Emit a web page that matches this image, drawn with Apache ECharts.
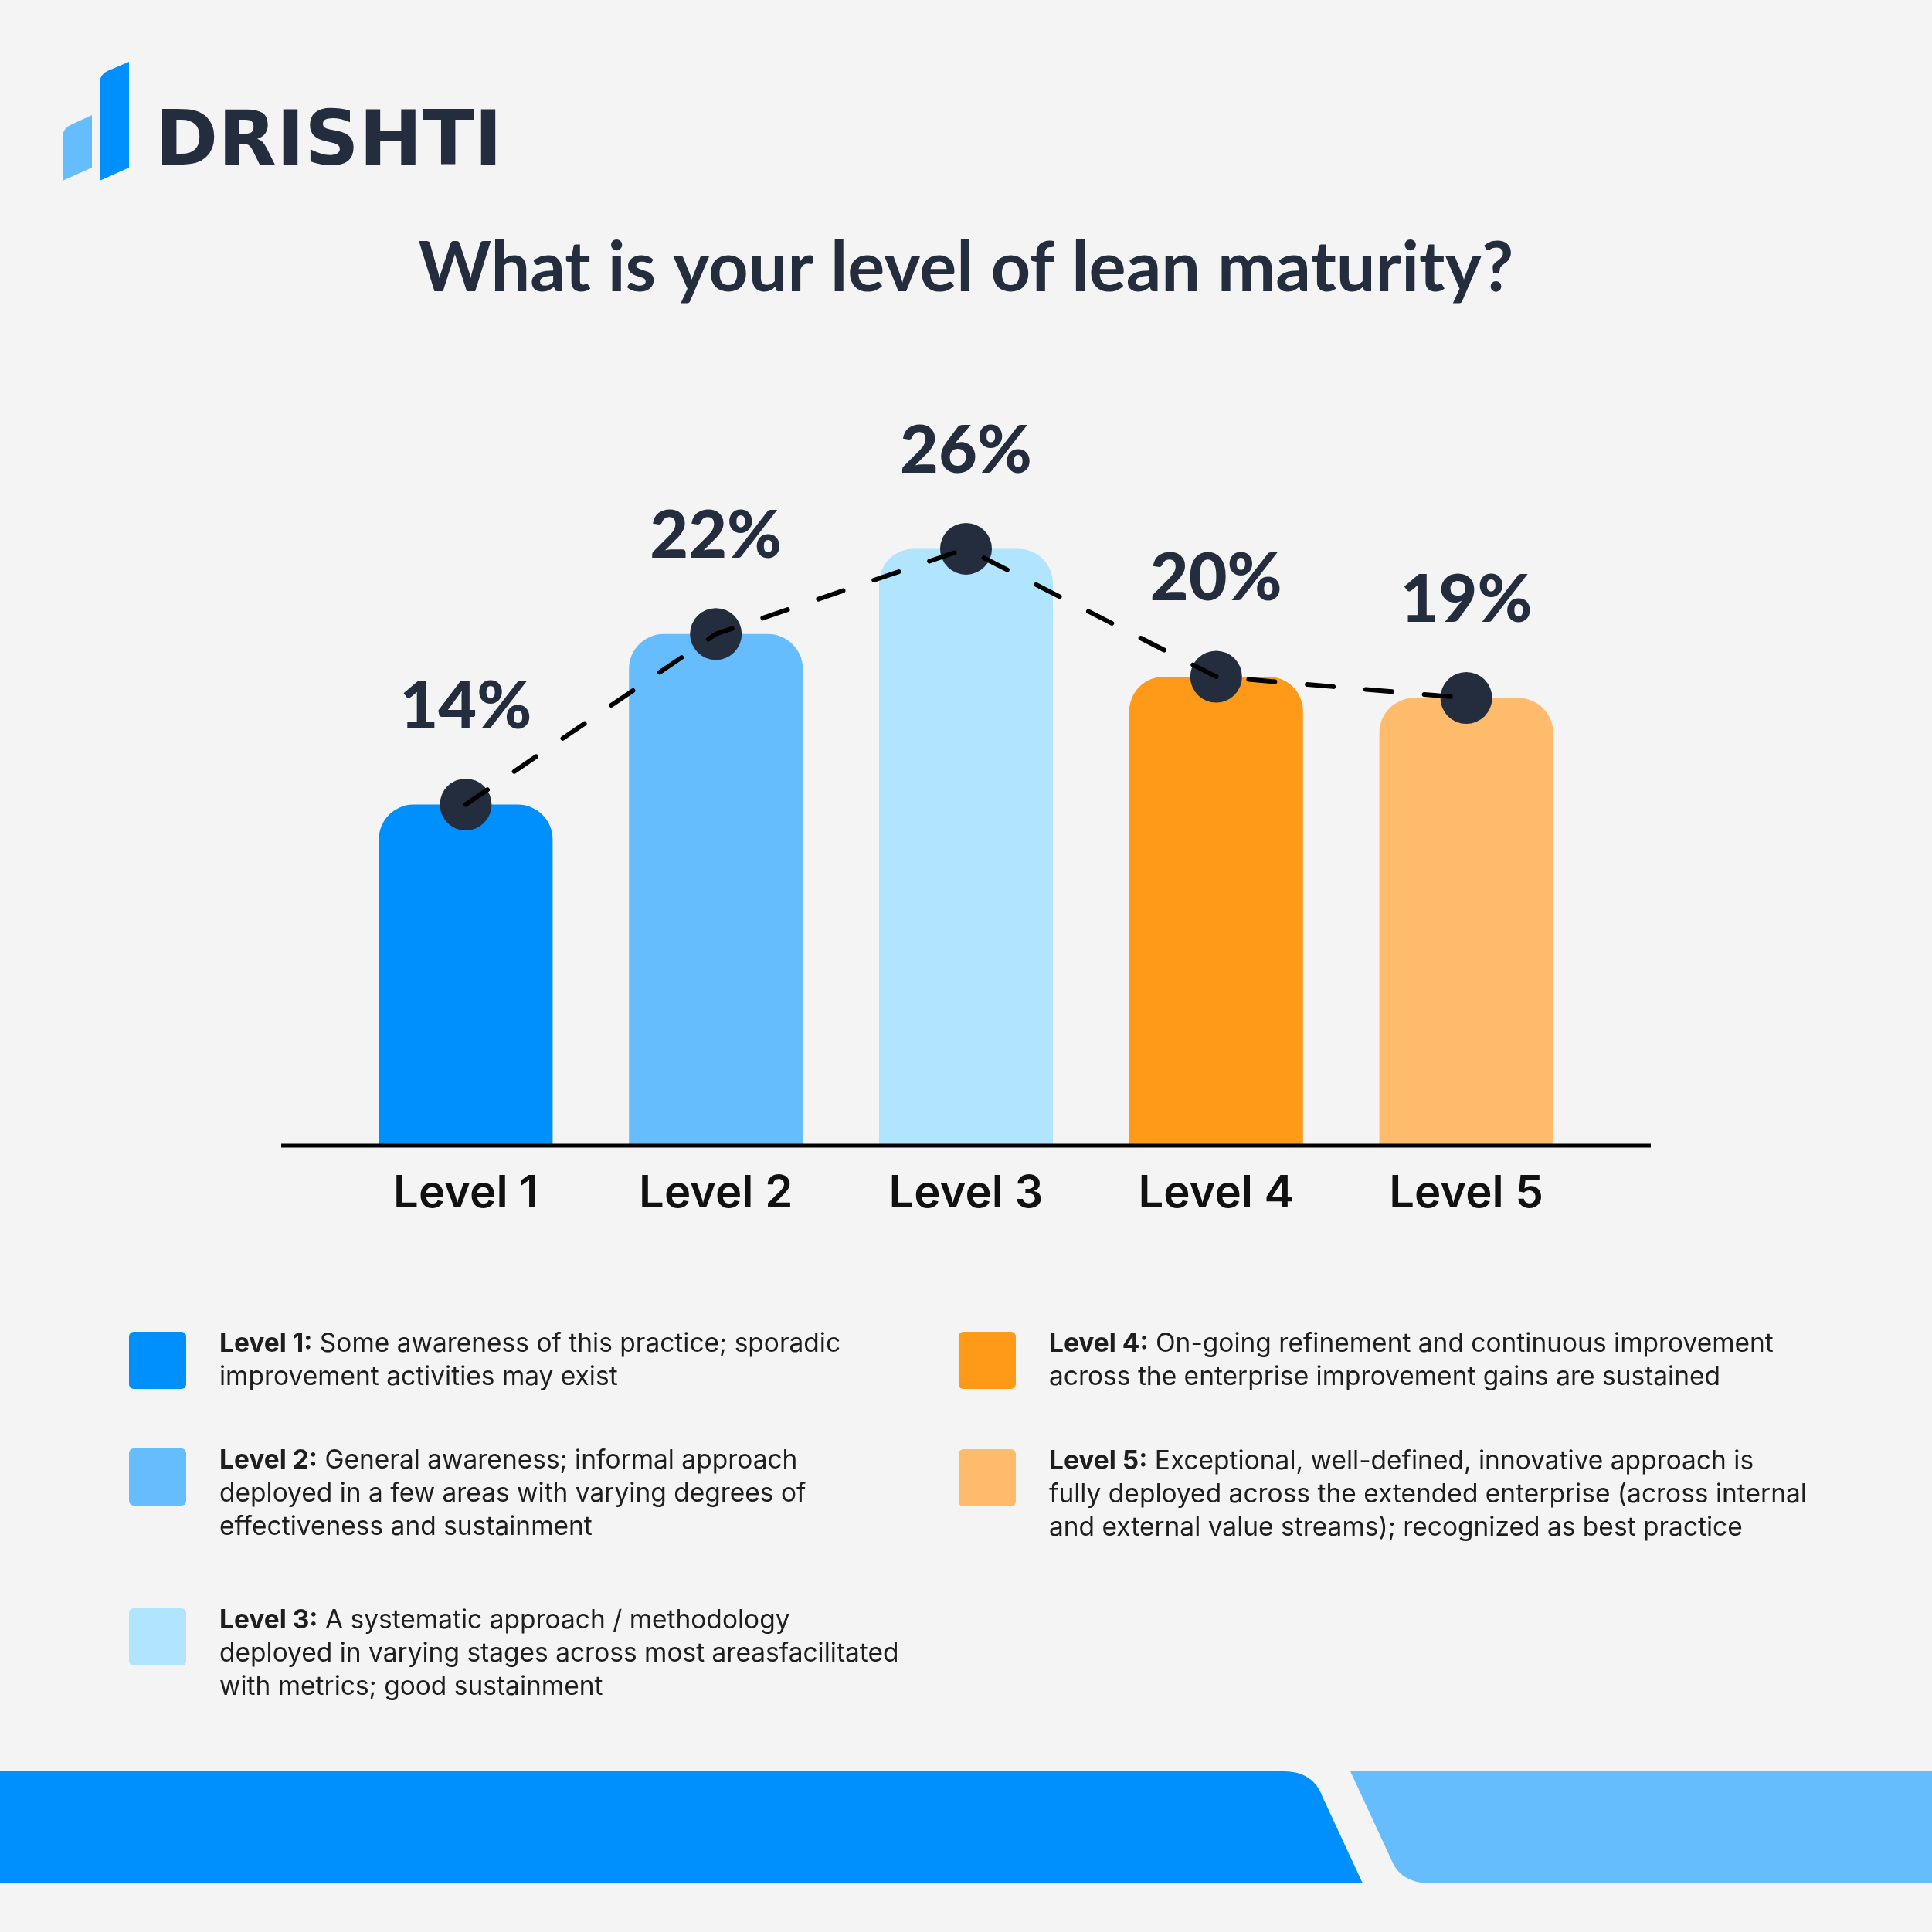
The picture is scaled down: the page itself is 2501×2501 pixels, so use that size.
<!DOCTYPE html>
<html><head><meta charset="utf-8">
<script src="https://cdn.jsdelivr.net/npm/echarts@6/dist/echarts.min.js"></script>
<style>html,body{margin:0;padding:0;background:#f4f4f4}#c{width:2501px;height:2501px}</style>
</head><body><div id="c"></div>
<script>
const categories = ['Level 1', 'Level 2', 'Level 3', 'Level 4', 'Level 5'];
const values = [14, 22, 26, 20, 19];
const barColors = ['#0090fe', '#66bdfe', '#b1e4fe', '#fe9a17', '#ffbb6c'];
const titleText = 'What is your level of lean maturity?';
const legendHeads = ['Level 1:', 'Level 2:', 'Level 3:', 'Level 4:', 'Level 5:'];
const legendLines = [
  ['Some awareness of this practice; sporadic', 'improvement activities may exist'],
  ['General awareness; informal approach', 'deployed in a few areas with varying degrees of', 'effectiveness and sustainment'],
  ['A systematic approach / methodology', 'deployed in varying stages across most areasfacilitated', 'with metrics; good sustainment'],
  ['On-going refinement and continuous improvement', 'across the enterprise improvement gains are sustained'],
  ['Exceptional, well-defined, innovative approach is', 'fully deployed across the extended enterprise (across internal', 'and external value streams); recognized as best practice']
];

const DARK = '#232d3d';
const chart = echarts.init(document.getElementById('c'));

// quadratic curve helper for decorative shapes
function quad(p0, c, p1, n) {
  const pts = [];
  for (let k = 1; k < n; k++) {
    const t = k / n;
    pts.push([(1-t)*(1-t)*p0[0] + 2*(1-t)*t*c[0] + t*t*p1[0], (1-t)*(1-t)*p0[1] + 2*(1-t)*t*c[1] + t*t*p1[1]]);
  }
  return pts;
}
function poly(list) {
  const out = [];
  list.forEach(item => { if (item.q) { out.push(item.q[0]); quad(item.q[0], item.q[1], item.q[2], 12).forEach(p => out.push(p)); out.push(item.q[2]); } else out.push(item); });
  return out;
}

const legendPos = [[167, 1724], [167, 1875], [167, 2082], [1241, 1724], [1241, 1876]];
const graphics = [];
// logo
graphics.push({type: 'polygon', shape: {points: poly([[81,234], {q: [[81,178],[81,167],[91,162]]}, [119,149], [119,217]])}, style: {fill: '#66bdfe'}});
graphics.push({type: 'polygon', shape: {points: poly([[129,234], {q: [[129,108],[129,97],[139,92]]}, [167,80], [167,217]])}, style: {fill: '#0090fe'}});
graphics.push({type: 'text', x: 201, y: 188, style: {text: 'DRISHTI', fontFamily: 'DejaVu Sans', fontWeight: 'bold', fontSize: 98, fill: DARK, verticalAlign: 'middle'}});
// axis baseline
graphics.push({type: 'line', shape: {x1: 364, y1: 1483, x2: 2137, y2: 1483}, style: {stroke: '#000', lineWidth: 5}, z: 10});
// legend
legendHeads.forEach((h, i) => {
  const [x, y] = legendPos[i];
  graphics.push({type: 'rect', shape: {x: x, y: y, width: 74, height: 74, r: 6}, style: {fill: barColors[i]}});
  const txt = '{b|' + h + '} ' + legendLines[i].join('\n');
  graphics.push({type: 'text', x: x + 117, y: y - 6, style: {
    text: txt, fontFamily: 'Inter', fontSize: 33.5, lineHeight: 43, fill: '#1e1e1e',
    rich: {b: {fontFamily: 'Inter', fontWeight: 'bold', fontSize: 33.5, lineHeight: 43, fill: '#1e1e1e'}}
  }});
});
// footer bands
graphics.push({type: 'polygon', shape: {points: poly([[0,2293], {q: [[1662,2293],[1700,2293],[1712,2326]]}, [1764,2438], [0,2438]])}, style: {fill: '#0090fe'}});
graphics.push({type: 'polygon', shape: {points: poly([[1748,2293], [2501,2293], [2501,2438], {q: [[1852,2438],[1812,2438],[1800,2405]]}])}, style: {fill: '#66bdfe'}});

chart.setOption({
  backgroundColor: '#f4f4f4',
  animation: false,
  title: {text: titleText, left: 'center', top: 290, textStyle: {fontFamily: 'Lato', fontWeight: 'bold', fontSize: 90, color: DARK, lineHeight: 106}},
  grid: {left: 441, right: 441, top: 600, bottom: 1018},
  xAxis: {type: 'category', data: categories, axisLine: {show: false}, axisTick: {show: false},
    axisLabel: {fontFamily: 'Inter', fontWeight: 600, fontSize: 58, color: '#111', margin: 34}},
  yAxis: {type: 'value', min: -2, max: 30, startValue: -2, show: false},
  series: [
    {type: 'bar', data: values.map((v, i) => ({value: v, itemStyle: {color: barColors[i]}})), barWidth: 225,
     itemStyle: {borderRadius: [45, 45, 0, 0]}, z: 2},
    {type: 'scatter', data: values, symbolSize: 67, itemStyle: {color: DARK, opacity: 1}, z: 3,
     label: {show: true, position: 'top', distance: 50, formatter: '{c}%', fontFamily: 'Lato', fontWeight: 900, fontSize: 86, color: DARK}},
    {type: 'line', data: values, symbol: 'none', lineStyle: {color: '#000', width: 6, type: [34, 42], cap: 'round'}, z: 4}
  ],
  graphic: graphics
});
</script></body></html>
